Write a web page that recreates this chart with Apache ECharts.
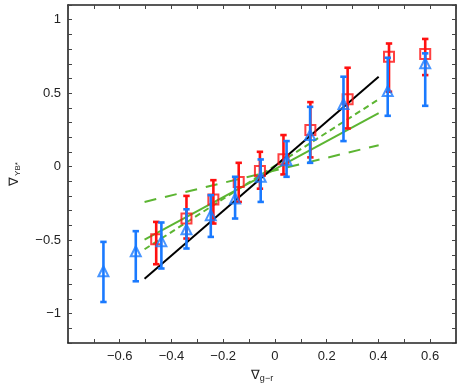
<!DOCTYPE html>
<html><head><meta charset="utf-8">
<script src="https://cdn.jsdelivr.net/npm/echarts@6/dist/echarts.min.js"></script>
<style>html,body{margin:0;padding:0;background:#fff}#c{width:457px;height:389px}</style>
</head><body><div id="c"></div>
<script>
// Red squares: x, y, lower, upper
const redX  = [-0.459, -0.342, -0.238, -0.140, -0.058, 0.033, 0.137, 0.281, 0.441, 0.581];
const redY  = [-0.494, -0.353, -0.223, -0.104, -0.029, 0.051, 0.249, 0.458, 0.748, 0.766];
const redLo = [-0.664, -0.489, -0.387, -0.240, -0.150, -0.053, 0.063, 0.260, 0.510, 0.623];
const redHi = [-0.376, -0.199, -0.092, 0.026, 0.101, 0.215, 0.439, 0.673, 0.838, 0.869];
// Blue triangles
const blueX  = [-0.663, -0.538, -0.439, -0.342, -0.248, -0.154, -0.055, 0.045, 0.136, 0.265, 0.436, 0.581];
const blueY  = [-0.712, -0.576, -0.507, -0.426, -0.330, -0.217, -0.069, 0.044, 0.215, 0.426, 0.514, 0.703];
const blueLo = [-0.921, -0.780, -0.693, -0.557, -0.478, -0.353, -0.240, -0.069, 0.026, 0.174, 0.346, 0.414];
const blueHi = [-0.512, -0.439, -0.380, -0.290, -0.194, -0.069, 0.049, 0.174, 0.407, 0.612, 0.741, 0.771];
// Fit lines (endpoints)
const lineX      = [-0.504, 0.401];
const blackY     = [-0.762, 0.612];
const greenSolidY = [-0.496, 0.364];
const greenShortY = [-0.562, 0.458];
const greenLongY  = [-0.240, 0.146];
const xTickLabels = {'-6':'\u22120.6','-4':'\u22120.4','-2':'\u22120.2','0':'0','2':'0.2','4':'0.4','6':'0.6'};
const yTickLabels = {'-10':'\u22121','-5':'\u22120.5','0':'0','5':'0.5','10':'1'};

const RED = '#ff1010', BLUE = '#1a7aff', GREEN = '#5cb532';
const FONT = 'Liberation Sans';
const chart = echarts.init(document.getElementById('c'));

function zip(a, b) { return a.map((v, i) => [v, b[i]]); }
function errData(x, lo, hi) { return x.map((v, i) => [v, lo[i], hi[i]]); }
function errRender(color) {
  return function (params, api) {
    const x = api.value(0);
    const p1 = api.coord([x, api.value(1)]);
    const p2 = api.coord([x, api.value(2)]);
    const s = {stroke: color, lineWidth: 2.6};
    const c = 3.2;
    return {type: 'group', children: [
      {type: 'line', shape: {x1: p1[0], y1: p1[1], x2: p2[0], y2: p2[1]}, style: s},
      {type: 'line', shape: {x1: p1[0]-c, y1: p1[1], x2: p1[0]+c, y2: p1[1]}, style: s},
      {type: 'line', shape: {x1: p2[0]-c, y1: p2[1], x2: p2[0]+c, y2: p2[1]}, style: s}
    ]};
  };
}
const axisCommon = {
  type: 'value',
  axisLine: {show: true, onZero: false, lineStyle: {color: '#222', width: 1.6}},
  axisTick: {show: true, inside: true, length: 4, lineStyle: {color: '#444', width: 1}},
  splitLine: {show: false}
};
function lineSeries(y, dash) {
  return {type: 'line', data: zip(lineX, y), symbol: 'none', silent: true,
    lineStyle: {color: dash === 'black' ? '#000' : GREEN, width: 2, type: Array.isArray(dash) ? dash : 'solid'}, z: 3};
}
chart.setOption({
  animation: false,
  grid: {left: 59, right: 1, top: 5, bottom: 46},
  xAxis: [
    Object.assign({}, axisCommon, {min: -0.8, max: 0.7, interval: 0.1, position: 'bottom',
      name: '\u2207{sub|g\u2212r}', nameLocation: 'middle', nameGap: 24,
      nameTextStyle: {fontFamily: FONT, fontSize: 13, color: '#222', rich: {sub: {fontFamily: FONT, fontSize: 9, color: '#222', padding: [7, 0, 0, 0]}}},
      axisLabel: {margin: 7, fontFamily: FONT, fontSize: 13, color: '#222', showMinLabel: false, showMaxLabel: false,
        formatter: v => xTickLabels[String(Math.round(v * 10))] || ''}}),
    Object.assign({}, axisCommon, {min: -0.8, max: 0.7, interval: 0.1, position: 'top', axisLabel: {show: false}})
  ],
  yAxis: [
    Object.assign({}, axisCommon, {min: -1.2, max: 1.1, interval: 0.1, position: 'left',
      name: '\u2207{sub|\u03a5B*}', nameLocation: 'middle', nameGap: 46,
      nameTextStyle: {fontFamily: FONT, fontSize: 13, color: '#222', rich: {sub: {fontFamily: FONT, fontSize: 8, color: '#222', padding: [7, 0, 0, 1]}}},
      axisLabel: {margin: 7, fontFamily: FONT, fontSize: 13, color: '#222',
        formatter: v => yTickLabels[String(Math.round(v * 10))] || ''}}),
    Object.assign({}, axisCommon, {min: -1.2, max: 1.1, interval: 0.1, position: 'right', axisLabel: {show: false}})
  ],
  series: [
    lineSeries(greenLongY, [12, 9]),
    lineSeries(greenShortY, [6, 4]),
    lineSeries(greenSolidY, 'solid'),
    lineSeries(blackY, 'black'),
    {type: 'custom', renderItem: errRender(RED), data: errData(redX, redLo, redHi), encode: {x: 0, y: [1, 2]}, z: 4, silent: true},
    {type: 'scatter', data: zip(redX, redY), symbol: 'rect', symbolSize: 10,
      itemStyle: {color: 'rgba(0,0,0,0)', borderColor: RED, borderWidth: 2}, z: 5, silent: true},
    {type: 'custom', renderItem: errRender(BLUE), data: errData(blueX, blueLo, blueHi), encode: {x: 0, y: [1, 2]}, z: 6, silent: true},
    {type: 'scatter', data: zip(blueX, blueY), symbol: 'triangle', symbolSize: 10,
      itemStyle: {color: 'rgba(0,0,0,0)', borderColor: BLUE, borderWidth: 2}, z: 7, silent: true}
  ]
});
</script></body></html>
